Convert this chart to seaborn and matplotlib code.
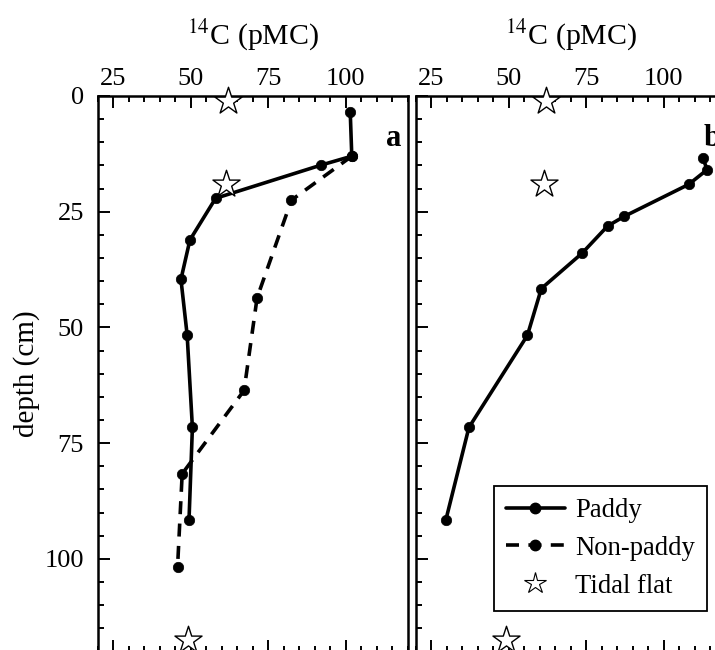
import matplotlib
matplotlib.use("Agg")
import matplotlib.pyplot as plt
import seaborn as sns
from matplotlib.lines import Line2D
from matplotlib.ticker import MultipleLocator

# 14C profiles (pMC vs depth in cm)
paddy_a_pmc = [101.5, 102.0, 92.2, 58.0, 49.7, 46.8, 48.8, 50.5, 49.4]
paddy_a_depth = [3.5, 13.0, 14.9, 22.1, 31.1, 39.6, 51.6, 71.6, 91.7]

nonpaddy_a_pmc = [102.0, 82.5, 71.4, 67.2, 47.2, 45.7]
nonpaddy_a_depth = [13.0, 22.5, 43.6, 63.6, 81.6, 101.8]

paddy_b_pmc = [112.7, 114.1, 108.1, 87.3, 81.9, 73.6, 60.5, 56.0, 37.1, 29.6]
paddy_b_depth = [13.5, 15.9, 19.1, 26.0, 28.1, 34.0, 41.6, 51.7, 71.6, 91.7]

tidal_pmc = [62.0, 61.5, 49.0]
tidal_depth = [1.0, 19.0, 117.5]

xticks = [25, 50, 75, 100]
yticks = [0, 25, 50, 75, 100]

sns.set_style("ticks")
plt.rcParams["font.family"] = ["Liberation Serif", "DejaVu Serif"]
plt.rcParams["mathtext.fontset"] = "stix"
plt.rcParams["text.color"] = "black"
plt.rcParams["axes.labelcolor"] = "black"
plt.rcParams["xtick.color"] = "black"
plt.rcParams["ytick.color"] = "black"
plt.rcParams["axes.edgecolor"] = "black"

fig = plt.figure(figsize=(7.15, 6.5), dpi=100)
W, H = 715.0, 650.0
top_px, bot_px = 96.0, 651.5
ax_a = fig.add_axes([98 / W, 1 - bot_px / H, 309.5 / W, (bot_px - top_px) / H])
ax_b = fig.add_axes([416 / W, 1 - bot_px / H, 309.5 / W, (bot_px - top_px) / H])

lw = 2.6
ms = 7.5
line_kw = dict(color="black", lw=lw, marker="o", markersize=ms,
               markeredgecolor="black", markeredgewidth=0.5,
               sort=False, estimator=None, legend=False)
star_kw = dict(marker="*", s=420, facecolor="white", edgecolor="black",
               linewidth=1.0, zorder=5, legend=False, clip_on=False)
dash = (0, (3.6, 2.6))

# panel a
sns.lineplot(x=paddy_a_pmc, y=paddy_a_depth, ax=ax_a, **line_kw)
sns.lineplot(x=nonpaddy_a_pmc, y=nonpaddy_a_depth, ax=ax_a,
             linestyle=dash, **line_kw)
sns.scatterplot(x=tidal_pmc, y=tidal_depth, ax=ax_a, **star_kw)

# panel b
sns.lineplot(x=paddy_b_pmc, y=paddy_b_depth, ax=ax_b, **line_kw)
sns.scatterplot(x=tidal_pmc, y=tidal_depth, ax=ax_b, **star_kw)

for ax, letter in [(ax_a, "a"), (ax_b, "b")]:
    ax.set_xlim(20, 120)
    ax.set_ylim(120, 0)
    ax.set_xticks(xticks)
    ax.set_yticks(yticks)
    ax.xaxis.set_minor_locator(MultipleLocator(5))
    ax.yaxis.set_minor_locator(MultipleLocator(5))
    ax.xaxis.set_ticks_position("both")
    ax.xaxis.set_label_position("top")
    ax.tick_params(axis="x", which="both", direction="in", labeltop=True,
                   labelbottom=False, labelsize=19, pad=4)
    ax.tick_params(axis="y", which="both", direction="in", left=True,
                   right=False, labelsize=19, pad=10)
    ax.tick_params(which="major", length=8.5, width=1.4)
    ax.tick_params(which="minor", length=4.5, width=1.4)
    for sp in ax.spines.values():
        sp.set_linewidth(1.8)
        sp.set_visible(True)
        sp.set_color("black")
    ax.set_xlabel(r"$^{14}$C (pMC)", fontsize=21.5, labelpad=17)
    ax.set_ylabel("")
    ax.text(0.956, 0.9226, letter, transform=ax.transAxes, fontsize=22,
            fontweight="bold", ha="center", va="center")

ax_a.set_ylabel("depth (cm)", fontsize=21)
ax_a.yaxis.set_label_coords(-0.187, 0.5)
ax_b.tick_params(axis="y", labelleft=False)

handles = [
    Line2D([], [], color="black", lw=lw, marker="o", markersize=ms, label="Paddy"),
    Line2D([], [], color="black", lw=lw, marker="o", markersize=ms,
           linestyle=dash, label="Non-paddy"),
    Line2D([], [], color="none", marker="*", markersize=16, markerfacecolor="white",
           markeredgecolor="black", markeredgewidth=0.8, label="Tidal flat"),
]
leg = ax_b.legend(handles=handles, loc="upper left",
                  bbox_to_anchor=(494 / W, 1 - 486 / H),
                  bbox_transform=fig.transFigure, borderaxespad=0,
                  fontsize=19.2, frameon=True, fancybox=False, framealpha=1,
                  edgecolor="black", handlelength=2.2, handletextpad=0.4,
                  labelspacing=0.48, borderpad=0.45)
leg.get_frame().set_linewidth(1.3)

fig.savefig("out.png", dpi=100)
